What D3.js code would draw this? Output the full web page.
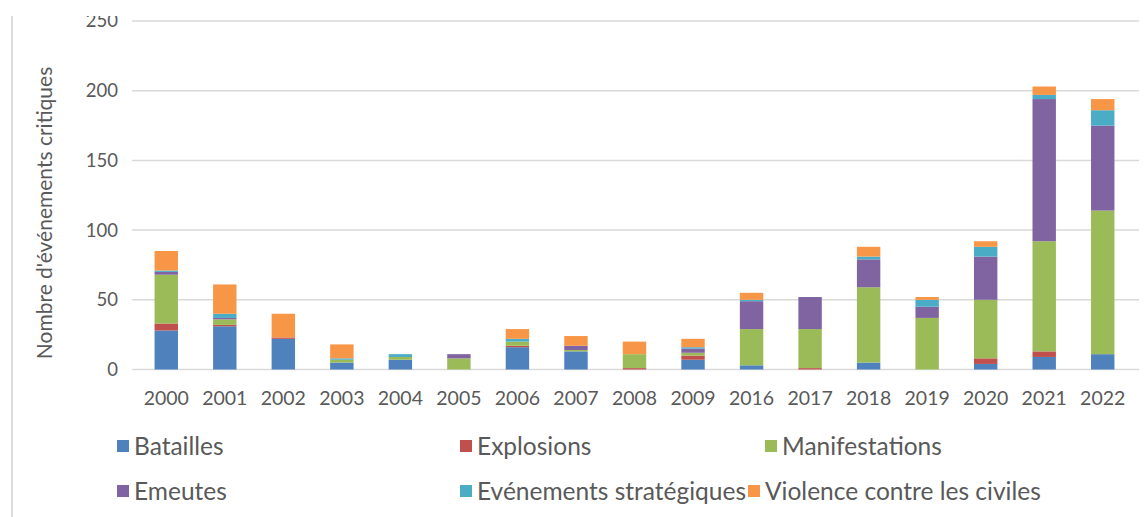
<!DOCTYPE html>
<html><head><meta charset="utf-8">
<script src="https://cdn.jsdelivr.net/npm/d3@7/dist/d3.min.js"></script>
<style>body{margin:0;background:#fff;}svg{display:block;}</style>
</head><body>
<svg id="c" width="1146" height="517"></svg>
<script>
const years = ["2000","2001","2002","2003","2004","2005","2006","2007","2008","2009","2016","2017","2018","2019","2020","2021","2022"];
const seriesNames = ["Batailles","Explosions","Manifestations","Emeutes","Evénements stratégiques","Violence contre les civiles"];
const batailles      = [28,31,22,5,7,0,16,13,0,7,3,0,5,0,4,9,11];
const explosions     = [5,1,1,0,0,0,1,0,1,3,0,1,0,0,4,4,0];
const manifestations = [35,4,0,2,2,8,3,1,10,2,26,28,54,37,42,79,103];
const emeutes        = [2,1,0,0,0,3,0,3,0,3,20,23,20,8,31,102,61];
const evenements     = [1,3,0,1,2,0,2,0,0,1,1,0,2,5,7,3,11];
const violence       = [14,21,17,10,0,0,7,7,9,6,5,0,7,2,4,6,8];
const yTicks = [0,50,100,150,200,250];
const colors = ["#4F81BD","#C0504D","#9BBB59","#8064A2","#4BACC6","#F79646"];

const cols = [batailles,explosions,manifestations,emeutes,evenements,violence];
const table = years.map((y,i)=>{const o={year:y};seriesNames.forEach((s,k)=>o[s]=cols[k][i]);return o;});

const svg = d3.select("#c");
const font = "Lato, 'Open Sans', sans-serif";
const x = d3.scaleBand().domain(years).range([137,1132]).paddingInner(0.6).paddingOuter(0.3);
const y = d3.scaleLinear().domain([0,250]).range([369.5,21]);

// gridlines
svg.append("g").selectAll("line").data(yTicks).join("line")
  .attr("x1",132).attr("x2",1139).attr("y1",d=>y(d)).attr("y2",d=>y(d))
  .attr("stroke","#d9d9d9").attr("stroke-width",1.5);

// y tick labels
svg.append("g").selectAll("text").data(yTicks).join("text")
  .attr("x",118).attr("y",d=>y(d)).attr("dy","0.35em").attr("text-anchor","end")
  .attr("font-family",font).attr("font-size",18.5).attr("fill","#595959").text(d=>d);

// bars
const stack = d3.stack().keys(seriesNames)(table);
svg.append("g").selectAll("g").data(stack).join("g").attr("fill",(d,i)=>colors[i])
  .selectAll("rect").data(d=>d).join("rect")
  .attr("x",d=>x(d.data.year)).attr("width",x.bandwidth())
  .attr("y",d=>y(d[1])).attr("height",d=>y(d[0])-y(d[1]));

// x labels
svg.append("g").selectAll("text").data(years).join("text")
  .attr("x",d=>x(d)+x.bandwidth()/2).attr("y",398).attr("dy","0.35em").attr("text-anchor","middle")
  .attr("font-family",font).attr("font-size",19.5).attr("fill","#595959").text(d=>d);

// y title
svg.append("text").attr("transform","translate(45,213) rotate(-90)").attr("text-anchor","middle")
  .attr("dy","0.35em").attr("font-family",font).attr("font-size",21).attr("fill","#595959")
  .text("Nombre d'événements critiques");

// legend
const legPos = [[117,446],[460,446],[765,446],[117,491],[460,491],[748,491]];
const leg = svg.append("g").selectAll("g").data(seriesNames).join("g")
  .attr("transform",(d,i)=>`translate(${legPos[i][0]},${legPos[i][1]})`);
leg.append("rect").attr("x",0).attr("y",-6).attr("width",12).attr("height",12).attr("fill",(d,i)=>colors[i]);
leg.append("text").attr("x",17).attr("y",0).attr("dy","0.35em")
  .attr("font-family",font).attr("font-size",24.5).attr("fill","#595959").text(d=>d);

// crop artifacts: top white band and left border
svg.append("rect").attr("x",0).attr("y",0).attr("width",1146).attr("height",16).attr("fill","#fff");
svg.append("line").attr("x1",12).attr("x2",12).attr("y1",16).attr("y2",517).attr("stroke","#d0d0d0").attr("stroke-width",1.5);
</script>
</body></html>
